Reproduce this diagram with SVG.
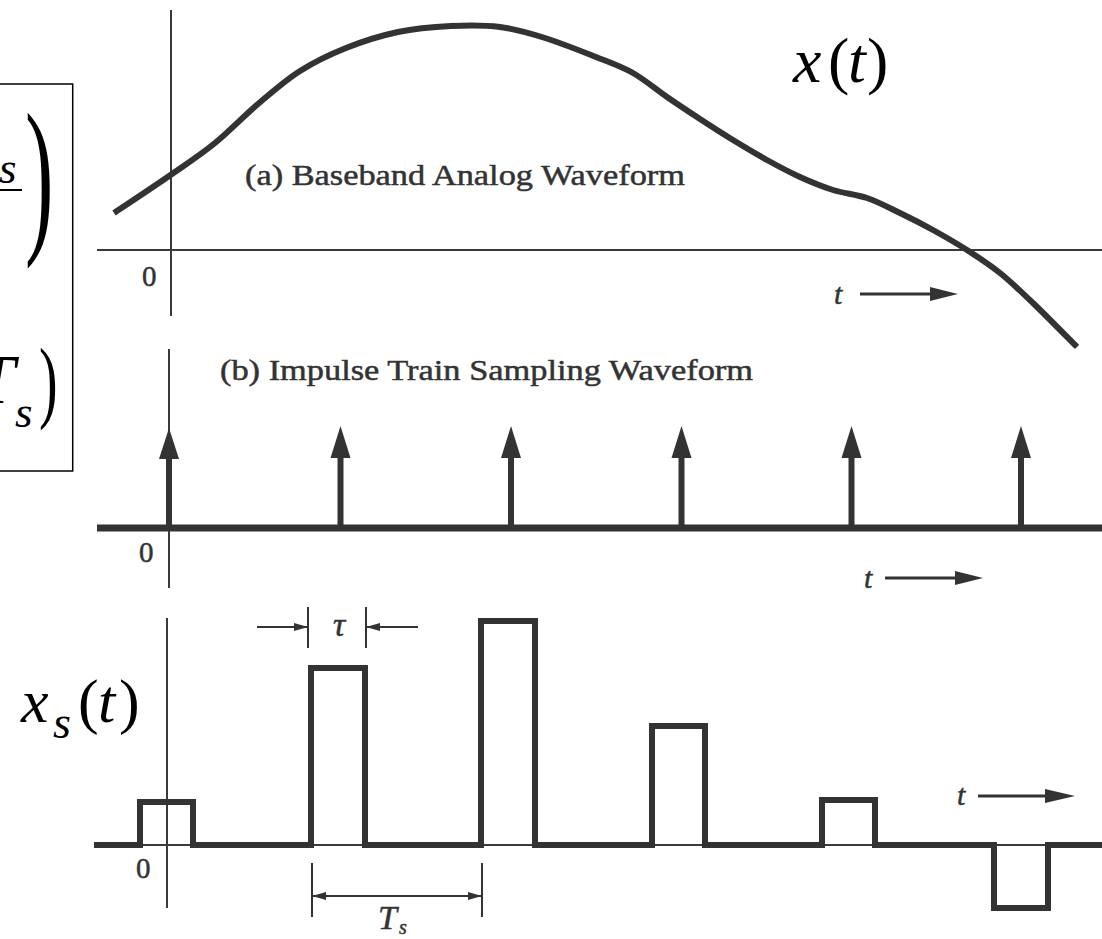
<svg xmlns="http://www.w3.org/2000/svg" width="1102" height="939" viewBox="0 0 1102 939">
<style>
.ax{stroke:#3a3a3a;stroke-width:2;fill:none}
.thick{stroke:#333;stroke-width:6;fill:none;stroke-linejoin:round}
.sig{stroke:#333;stroke-width:6;fill:none;stroke-linejoin:miter;stroke-linecap:square}
.lbl{fill:#333;stroke:#333;stroke-width:0.5}
.math{fill:#000}
.dim{stroke:#333;stroke-width:2;fill:none}
.head{fill:#333}
</style>
<defs>
<marker id="ah" markerWidth="14" markerHeight="10" refX="13" refY="5" orient="auto" markerUnits="userSpaceOnUse">
<path d="M0,1 L14,5 L0,9 Z" fill="#333"/>
</marker>
</defs>
<rect width="1102" height="939" fill="#fff"/>

<g id="formula-box" font-family="Liberation Serif, serif">
<rect x="-10" y="84" width="82.7" height="387" fill="none" stroke="#000" stroke-width="1.5"/>
<text class="math" font-style="italic" x="-1" y="183" font-size="45">s</text>
<line x1="-5" y1="190" x2="22" y2="190" stroke="#000" stroke-width="2"/>
<text class="math" font-size="171" transform="translate(25,232) scale(0.5,1)">)</text>
<text class="math" font-style="italic" x="-24" y="403" font-size="70">T</text>
<text class="math" font-style="italic" x="15" y="427" font-size="45">s</text>
<text class="math" font-size="90" transform="translate(39,411) scale(0.62,1)">)</text>
</g>

<g id="plot-a" font-family="Liberation Serif, serif">
<line class="ax" x1="171" y1="10" x2="171" y2="316"/>
<line class="ax" x1="97" y1="250" x2="1102" y2="250"/>
<path class="thick" stroke-linecap="butt" d="M114,213 C123.7,206.5 155.2,185.7 172,174 C188.8,162.3 200.7,154.7 215,143 C229.3,131.3 243.8,116 258,104 C272.2,92 285.3,80.3 300,71 C314.7,61.7 329.7,54.5 346,48 C362.3,41.5 380.5,35.7 398,32 C415.5,28.3 434,26.8 451,26 C468,25.2 484.3,25 500,27 C515.7,29 529,33 545,38 C561,43 581.3,51.2 596,57 C610.7,62.8 621.2,66.3 633,73 C644.8,79.7 655.8,89.3 667,97 C678.2,104.7 689,111.8 700,119 C711,126.2 721.8,133.2 733,140 C744.2,146.8 755.8,153.8 767,160 C778.2,166.2 789,172 800,177 C811,182 821.8,186.5 833,190 C844.2,193.5 855.8,194.2 867,198 C878.2,201.8 889,207.7 900,213 C911,218.3 921.8,223.8 933,230 C944.2,236.2 955.8,242.8 967,250 C978.2,257.2 989,264.2 1000,273 C1011,281.8 1020.2,290.7 1033,303 C1045.8,315.3 1069.7,339.7 1077,347"/>
<text class="lbl" x="245" y="185" font-size="30" textLength="440" lengthAdjust="spacingAndGlyphs">(a) Baseband Analog Waveform</text>
<text class="lbl" x="142" y="286" font-size="29">0</text>
<text class="lbl" font-style="italic" x="834" y="304" font-size="30">t</text>
<line x1="860" y1="294" x2="935" y2="294" stroke="#333" stroke-width="3"/>
<path class="head" d="M930,287 L958,294 L930,301 Z"/>
<text class="math" font-size="64" y="82"><tspan font-style="italic" x="793">x</tspan><tspan x="828">(</tspan><tspan font-style="italic" x="848">t</tspan><tspan x="867">)</tspan></text>
</g>

<g id="plot-b" font-family="Liberation Serif, serif">
<line class="ax" x1="169" y1="349" x2="169" y2="588"/>
<line x1="97" y1="528" x2="1102" y2="528" stroke="#333" stroke-width="7"/>
<text class="lbl" x="220" y="380" font-size="30" textLength="533" lengthAdjust="spacingAndGlyphs">(b) Impulse Train Sampling Waveform</text>
<text class="lbl" x="139" y="562" font-size="29">0</text>
<g id="impulses" fill="#333" stroke="#333">
<line x1="169" y1="528" x2="169" y2="455" stroke-width="6"/><path d="M159,459 L169,428 L179,459 Z" stroke="none"/>
<line x1="340.5" y1="528" x2="340.5" y2="455" stroke-width="6"/><path d="M330.5,458 L340.5,426 L350.5,458 Z" stroke="none"/>
<line x1="511" y1="528" x2="511" y2="455" stroke-width="6"/><path d="M501,458 L511,426 L521,458 Z" stroke="none"/>
<line x1="681.5" y1="528" x2="681.5" y2="455" stroke-width="6"/><path d="M671.5,458 L681.5,426 L691.5,458 Z" stroke="none"/>
<line x1="851.5" y1="528" x2="851.5" y2="455" stroke-width="6"/><path d="M841.5,458 L851.5,426 L861.5,458 Z" stroke="none"/>
<line x1="1021" y1="528" x2="1021" y2="455" stroke-width="6"/><path d="M1011,458 L1021,426 L1031,458 Z" stroke="none"/>
</g>
<text class="lbl" font-style="italic" x="864" y="588" font-size="30">t</text>
<line x1="885" y1="578" x2="960" y2="578" stroke="#333" stroke-width="3"/>
<path class="head" d="M955,571 L983,578 L955,585 Z"/>
</g>

<g id="plot-c" font-family="Liberation Serif, serif">
<line class="ax" x1="167" y1="618" x2="167" y2="908"/>
<line class="ax" x1="97" y1="845" x2="1102" y2="845"/>
<path class="sig" d="M97,845 H140 V802 H193 V845 H311 V668 H365 V845 H481 V621 H535 V845 H652 V726 H705 V845 H822 V800 H875 V845 H994 V908 H1048 V845 H1102"/>
<text class="lbl" x="136" y="878" font-size="29">0</text>
<text class="lbl" font-style="italic" x="957" y="805" font-size="30">t</text>
<line x1="978" y1="796" x2="1050" y2="796" stroke="#333" stroke-width="3"/>
<path class="head" d="M1045,789 L1075,796 L1045,803 Z"/>
<text class="math" font-size="62" y="722"><tspan font-style="italic" x="21">x</tspan><tspan font-style="italic" font-size="46" x="53" y="738">s</tspan><tspan x="78" y="722">(</tspan><tspan font-style="italic" x="98">t</tspan><tspan x="119">)</tspan></text>
</g>

<g id="connectors" font-family="Liberation Serif, serif">
<line class="dim" x1="308" y1="607" x2="308" y2="648"/>
<line class="dim" x1="366" y1="607" x2="366" y2="648"/>
<line class="dim" x1="257" y1="627" x2="307" y2="627" marker-end="url(#ah)"/>
<line class="dim" x1="418" y1="627" x2="367" y2="627" marker-end="url(#ah)"/>
<text class="lbl" font-style="italic" x="333" y="636" font-size="34">τ</text>
<line class="dim" x1="312" y1="863" x2="312" y2="917"/>
<line class="dim" x1="482" y1="863" x2="482" y2="917"/>
<line class="dim" x1="400" y1="896" x2="313" y2="896" marker-end="url(#ah)"/>
<line class="dim" x1="400" y1="896" x2="481" y2="896" marker-end="url(#ah)"/>
<text class="lbl" font-style="italic" x="378" y="929" font-size="34">T</text>
<text class="lbl" font-style="italic" x="399" y="934" font-size="20">s</text>
</g>
</svg>
